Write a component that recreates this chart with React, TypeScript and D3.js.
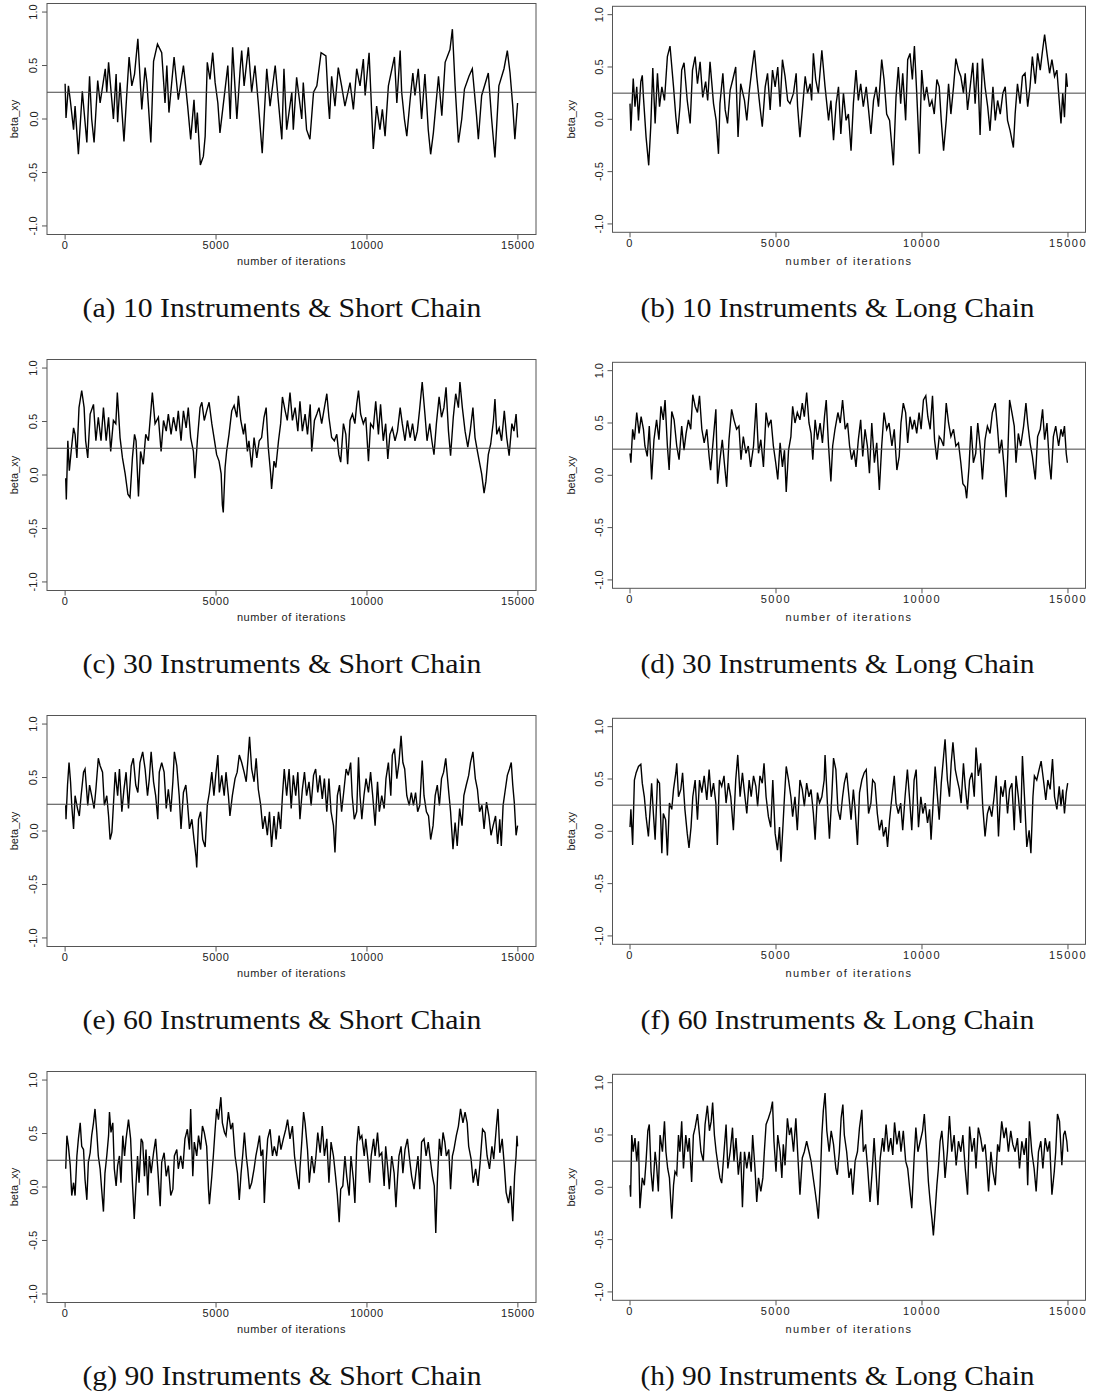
import * as d3 from "d3";

// values, [iteration, beta_xy]
const xTicks = [0, 5000, 10000, 15000];
const yTicks = [-1, -0.5, 0, 0.5, 1];
const trueBeta = 0.25;

const traceA: [number, number][] = [[0,0.33],[30,0.01],[110,0.31],[170,0.18],[280,-0.10],[330,0.12],[440,-0.33],[570,0.26],[720,-0.22],[810,0.40],[880,0.00],[960,-0.22],[1080,0.36],[1160,0.15],[1330,0.47],[1380,0.25],[1440,0.53],[1600,0.00],[1690,0.42],[1740,-0.03],[1820,0.34],[1950,-0.21],[2040,0.22],[2120,0.58],[2210,0.31],[2300,0.42],[2410,0.75],[2540,0.09],[2650,0.48],[2710,0.34],[2840,-0.22],[2930,0.54],[3060,0.70],[3200,0.62],[3310,0.15],[3370,0.50],[3440,0.06],[3610,0.58],[3750,0.18],[3920,0.50],[3970,0.37],[4060,0.12],[4160,-0.19],[4270,0.18],[4330,-0.13],[4380,0.06],[4480,-0.43],[4580,-0.35],[4640,-0.16],[4710,0.53],[4800,0.37],[4890,0.62],[4970,0.34],[5060,0.15],[5130,-0.13],[5300,0.28],[5390,0.50],[5470,0.00],[5550,0.67],[5690,0.00],[5800,0.47],[5850,0.64],[5930,0.31],[6070,0.67],[6180,0.25],[6290,0.50],[6400,0.15],[6530,-0.32],[6590,0.00],[6680,0.47],[6790,0.12],[6960,0.50],[7070,0.15],[7180,-0.19],[7250,0.47],[7340,-0.10],[7510,0.25],[7560,-0.10],[7670,0.39],[7840,0.00],[7890,0.34],[8000,-0.10],[8110,-0.19],[8230,0.25],[8340,0.31],[8480,0.62],[8640,0.59],[8720,0.15],[8760,0.00],[8830,0.40],[8940,0.12],[9050,0.48],[9160,0.31],[9270,0.12],[9440,0.34],[9550,0.09],[9660,0.47],[9770,0.31],[9880,0.56],[9940,0.22],[10070,0.62],[10210,-0.28],[10320,0.12],[10430,-0.10],[10510,0.09],[10600,-0.16],[10710,0.31],[10910,0.58],[10990,0.15],[11100,0.64],[11150,0.25],[11240,0.00],[11320,-0.16],[11430,0.18],[11520,0.43],[11590,0.22],[11700,0.47],[11810,0.00],[11920,0.42],[12030,-0.10],[12110,-0.33],[12200,-0.13],[12280,0.12],[12370,0.40],[12480,0.03],[12590,0.53],[12750,0.65],[12830,0.84],[12920,0.31],[13030,-0.22],[13140,0.00],[13230,0.28],[13380,0.40],[13490,0.47],[13630,0.03],[13690,-0.19],[13800,0.22],[14020,0.43],[14130,0.00],[14240,-0.36],[14370,0.31],[14540,0.47],[14650,0.64],[14740,0.43],[14830,0.12],[14900,-0.19],[14990,0.15]];

const traceB: [number, number][] = [[0,0.15],[30,-0.11],[110,0.39],[170,0.12],[230,0.31],[290,-0.01],[370,0.36],[420,0.42],[460,0.21],[550,-0.17],[640,-0.44],[710,-0.07],[780,0.49],[860,-0.04],[940,0.44],[1010,0.12],[1090,0.31],[1180,0.18],[1280,0.60],[1370,0.70],[1490,0.31],[1570,0.02],[1630,-0.14],[1710,0.12],[1770,0.47],[1850,0.54],[1960,0.18],[2060,-0.04],[2140,0.47],[2230,0.60],[2310,0.34],[2400,0.55],[2490,0.21],[2590,0.36],[2660,0.18],[2740,0.55],[2860,0.15],[2950,-0.01],[3030,-0.33],[3080,0.15],[3180,0.44],[3260,0.09],[3340,-0.04],[3430,0.28],[3520,0.38],[3620,0.50],[3700,-0.17],[3790,0.34],[3920,0.18],[4000,-0.01],[4090,0.28],[4170,0.47],[4260,0.66],[4340,0.41],[4450,0.12],[4530,-0.07],[4630,0.31],[4710,0.44],[4800,0.09],[4880,0.47],[4970,0.31],[5060,0.50],[5140,0.12],[5220,0.57],[5310,0.41],[5400,0.18],[5480,0.15],[5600,0.25],[5690,0.44],[5740,0.12],[5820,-0.17],[5920,0.15],[6000,0.41],[6080,0.25],[6170,0.34],[6220,0.18],[6280,0.63],[6360,0.38],[6450,0.25],[6570,0.66],[6680,0.31],[6800,-0.01],[6880,0.18],[6970,-0.20],[7060,0.15],[7140,0.31],[7220,-0.14],[7310,0.25],[7400,-0.01],[7480,0.05],[7570,-0.30],[7650,0.15],[7740,0.47],[7820,0.18],[7900,0.34],[7990,0.12],[8090,0.31],[8170,0.09],[8250,-0.14],[8340,0.18],[8430,0.31],[8510,0.12],[8620,0.57],[8700,0.38],[8790,0.05],[8890,-0.01],[8970,-0.27],[9020,-0.44],[9110,0.21],[9190,0.50],[9270,0.15],[9340,0.44],[9440,-0.01],[9510,0.57],[9590,0.63],[9670,0.38],[9740,0.70],[9820,0.25],[9910,-0.33],[9990,0.47],[10080,0.18],[10160,0.31],[10260,0.12],[10340,0.18],[10420,0.05],[10510,0.38],[10590,0.31],[10660,-0.01],[10740,-0.30],[10830,-0.01],[10910,0.34],[10990,0.05],[11080,0.31],[11160,0.58],[11250,0.47],[11330,0.41],[11420,0.25],[11480,0.44],[11560,0.09],[11650,0.31],[11740,0.54],[11820,0.15],[11900,0.54],[11990,-0.15],[12070,0.58],[12160,0.31],[12250,0.12],[12330,-0.11],[12430,0.31],[12510,-0.01],[12590,0.18],[12680,0.05],[12770,0.25],[12850,0.31],[12930,-0.01],[13020,-0.11],[13130,-0.27],[13190,0.05],[13270,0.34],[13360,0.15],[13440,0.41],[13530,0.44],[13620,0.12],[13700,0.31],[13780,0.60],[13880,0.34],[13960,0.63],[14050,0.47],[14130,0.66],[14200,0.81],[14280,0.63],[14370,0.44],[14450,0.57],[14540,0.41],[14620,0.47],[14700,0.18],[14760,-0.04],[14820,0.25],[14880,0.02],[14940,0.44],[14980,0.31]];

const traceC: [number, number][] = [[20,-0.03],[40,-0.23],[90,0.32],[140,0.04],[200,0.22],[280,0.44],[330,0.38],[390,0.16],[460,0.63],[550,0.79],[630,0.63],[680,0.32],[750,0.16],[830,0.57],[940,0.66],[1020,0.32],[1100,0.54],[1190,0.32],[1270,0.63],[1360,0.32],[1440,0.54],[1510,0.22],[1600,0.51],[1680,0.48],[1730,0.77],[1820,0.35],[1900,0.16],[1990,0.01],[2080,-0.18],[2150,-0.21],[2230,0.16],[2300,0.38],[2350,0.32],[2430,-0.20],[2500,0.22],[2590,0.10],[2670,0.38],[2760,0.32],[2850,0.63],[2890,0.77],[2980,0.48],[3090,0.54],[3180,0.22],[3260,0.51],[3350,0.41],[3420,0.57],[3510,0.38],[3590,0.54],[3680,0.41],[3750,0.60],[3840,0.32],[3920,0.60],[4010,0.44],[4080,0.63],[4160,0.35],[4250,0.22],[4300,-0.03],[4380,0.32],[4470,0.63],[4530,0.68],[4610,0.51],[4690,0.60],[4770,0.68],[4860,0.48],[4950,0.32],[5020,0.19],[5100,0.13],[5170,0.01],[5210,-0.28],[5240,-0.35],[5300,0.07],[5350,0.22],[5430,0.38],[5520,0.60],[5600,0.65],[5690,0.54],[5740,0.74],[5820,0.51],[5910,0.38],[5960,0.48],[6040,0.22],[6090,0.32],[6180,0.07],[6260,0.35],[6350,0.16],[6430,0.32],[6510,0.35],[6590,0.54],[6660,0.63],[6730,0.26],[6810,0.01],[6840,-0.13],[6920,0.13],[6980,0.07],[7070,0.32],[7140,0.48],[7200,0.73],[7290,0.60],[7360,0.51],[7450,0.77],[7530,0.51],[7620,0.63],[7710,0.41],[7780,0.69],[7860,0.41],[7950,0.57],[8030,0.38],[8120,0.66],[8170,0.22],[8260,0.51],[8340,0.57],[8410,0.63],[8500,0.48],[8590,0.63],[8670,0.76],[8740,0.54],[8830,0.35],[8920,0.32],[9000,0.38],[9070,0.19],[9130,0.12],[9220,0.48],[9300,0.38],[9360,0.10],[9440,0.51],[9520,0.57],[9600,0.48],[9660,0.66],[9720,0.79],[9790,0.57],[9880,0.48],[9960,0.54],[10050,0.13],[10120,0.48],[10210,0.44],[10290,0.69],[10380,0.38],[10450,0.66],[10540,0.32],[10620,0.48],[10690,0.15],[10760,0.38],[10840,0.44],[10930,0.32],[11010,0.41],[11100,0.63],[11170,0.48],[11260,0.32],[11340,0.51],[11430,0.35],[11510,0.48],[11590,0.32],[11670,0.41],[11740,0.60],[11830,0.87],[11920,0.57],[11990,0.32],[12080,0.48],[12150,0.32],[12220,0.19],[12300,0.48],[12390,0.73],[12470,0.54],[12550,0.63],[12620,0.82],[12700,0.41],[12770,0.18],[12860,0.54],[12940,0.76],[13030,0.63],[13080,0.87],[13160,0.63],[13250,0.41],[13340,0.26],[13420,0.41],[13510,0.63],[13580,0.35],[13660,0.22],[13720,0.13],[13800,0.01],[13880,-0.17],[13940,-0.06],[14020,0.19],[14100,0.29],[14190,0.51],[14240,0.71],[14300,0.38],[14380,0.44],[14460,0.32],[14550,0.60],[14630,0.35],[14710,0.18],[14800,0.48],[14870,0.41],[14940,0.57],[14990,0.35]];

const traceD: [number, number][] = [[0,0.21],[30,0.12],[90,0.44],[150,0.34],[230,0.60],[310,0.40],[380,0.56],[460,0.44],[510,0.28],[590,0.18],[660,0.47],[740,-0.04],[820,0.34],[910,0.53],[990,0.34],[1060,0.66],[1140,0.53],[1200,0.72],[1280,0.28],[1340,0.05],[1430,0.61],[1510,0.53],[1600,0.28],[1680,0.15],[1770,0.47],[1850,0.24],[1920,0.40],[2000,0.53],[2080,0.44],[2150,0.77],[2230,0.66],[2310,0.60],[2380,0.76],[2460,0.44],[2540,0.31],[2630,0.44],[2710,0.18],[2760,0.05],[2860,0.37],[2940,0.63],[3000,-0.08],[3080,0.15],[3160,0.34],[3230,0.12],[3310,-0.11],[3390,0.34],[3480,0.63],[3560,0.53],[3650,0.44],[3730,0.47],[3800,0.15],[3880,0.37],[3970,0.21],[4050,0.28],[4130,0.08],[4230,0.28],[4320,0.69],[4400,0.21],[4480,0.34],[4570,0.08],[4660,0.60],[4740,0.47],[4830,0.53],[4910,0.28],[4990,0.12],[5060,-0.04],[5140,0.31],[5220,0.08],[5290,0.24],[5350,-0.16],[5430,0.24],[5510,0.37],[5570,0.66],[5650,0.50],[5730,0.60],[5820,0.53],[5900,0.69],[5970,0.56],[6050,0.79],[6130,0.50],[6200,0.40],[6260,0.15],[6340,0.53],[6420,0.34],[6510,0.50],[6590,0.31],[6660,0.56],[6720,0.72],[6800,0.28],[6880,-0.06],[6940,0.28],[7020,0.44],[7120,0.60],[7200,0.50],[7280,0.72],[7370,0.44],[7450,0.50],[7520,0.28],[7590,0.15],[7670,0.24],[7740,0.08],[7820,0.34],[7900,0.53],[7970,0.18],[8050,0.44],[8130,0.28],[8200,0.02],[8280,0.50],[8370,0.12],[8450,0.31],[8540,-0.14],[8620,0.28],[8700,0.60],[8790,0.44],[8870,0.50],[8970,0.28],[9050,0.44],[9140,0.05],[9220,0.18],[9280,0.50],[9360,0.69],[9440,0.60],[9510,0.31],[9590,0.56],[9670,0.44],[9740,0.53],[9820,0.40],[9900,0.60],[9970,0.44],[10050,0.72],[10130,0.76],[10200,0.56],[10280,0.44],[10360,0.76],[10430,0.34],[10510,0.15],[10590,0.37],[10660,0.34],[10740,0.28],[10830,0.69],[10910,0.50],[10990,0.37],[11080,0.44],[11160,0.28],[11250,0.31],[11330,0.12],[11400,-0.08],[11480,-0.11],[11530,-0.22],[11610,0.08],[11680,0.47],[11760,0.12],[11840,0.21],[11910,0.50],[11990,0.28],[12070,-0.04],[12160,0.34],[12240,0.47],[12330,0.40],[12410,0.60],[12510,0.69],[12590,0.44],[12650,0.21],[12730,0.34],[12810,0.08],[12880,-0.21],[12940,0.21],[13000,0.72],[13080,0.60],[13160,0.47],[13220,0.12],[13300,0.40],[13380,0.28],[13480,0.47],[13560,0.69],[13620,0.50],[13700,0.31],[13780,0.18],[13880,-0.04],[13960,0.37],[14050,0.44],[14130,0.63],[14200,0.34],[14280,0.50],[14360,0.12],[14420,-0.04],[14500,0.37],[14580,0.47],[14680,0.28],[14760,0.44],[14820,0.37],[14880,0.47],[14940,0.21],[14980,0.12]];

const traceE: [number, number][] = [[20,0.24],[30,0.11],[80,0.43],[130,0.64],[180,0.46],[220,0.24],[280,0.02],[330,0.33],[410,0.21],[470,0.14],[530,0.33],[610,0.55],[660,0.58],[750,0.24],[810,0.43],[880,0.33],[960,0.21],[1020,0.39],[1100,0.68],[1160,0.61],[1240,0.55],[1300,0.24],[1380,0.33],[1440,0.14],[1490,-0.08],[1550,-0.01],[1580,0.14],[1660,0.55],[1740,0.33],[1800,0.58],[1880,0.18],[1950,0.39],[2020,0.55],[2100,0.21],[2190,0.61],[2260,0.68],[2340,0.43],[2410,0.36],[2480,0.64],[2570,0.74],[2650,0.58],[2730,0.33],[2790,0.49],[2850,0.74],[2930,0.46],[3000,0.33],[3070,0.11],[3120,0.55],[3200,0.64],[3280,0.55],[3350,0.21],[3420,0.39],[3500,0.18],[3570,0.46],[3620,0.74],[3700,0.61],[3780,0.33],[3840,0.02],[3920,0.36],[4000,0.43],[4060,0.24],[4120,0.02],[4200,0.11],[4270,-0.08],[4340,-0.25],[4360,-0.34],[4420,0.11],[4490,0.18],[4560,-0.08],[4640,-0.15],[4710,0.24],[4780,0.36],[4860,0.55],[4930,0.33],[5000,0.55],[5060,0.71],[5110,0.36],[5190,0.52],[5270,0.33],[5330,0.55],[5410,0.33],[5460,0.14],[5540,0.33],[5630,0.49],[5700,0.55],[5770,0.71],[5850,0.64],[5930,0.55],[6000,0.46],[6050,0.64],[6110,0.88],[6180,0.58],[6260,0.46],[6330,0.68],[6400,0.39],[6480,0.24],[6550,0.02],[6620,0.14],[6700,-0.04],[6770,0.18],[6840,-0.15],[6920,0.14],[6990,-0.08],[7070,0.18],[7140,0.02],[7200,0.33],[7260,0.58],[7340,0.33],[7420,0.58],[7490,0.21],[7560,0.52],[7640,0.33],[7710,0.55],[7780,0.11],[7860,0.39],[7930,0.55],[8000,0.33],[8080,0.46],[8150,0.24],[8230,0.52],[8300,0.58],[8370,0.36],[8440,0.52],[8520,0.30],[8590,0.49],[8670,0.18],[8740,0.49],[8810,0.18],[8890,0.05],[8940,-0.20],[9020,0.33],[9090,0.43],[9160,0.18],[9240,0.39],[9310,0.58],[9380,0.52],[9460,0.64],[9510,0.33],[9580,0.11],[9660,0.18],[9720,0.69],[9770,0.33],[9830,0.11],[9900,0.33],[9970,0.49],[10050,0.36],[10120,0.55],[10190,0.33],[10270,0.05],[10350,0.46],[10410,0.18],[10490,0.33],[10570,0.21],[10630,0.49],[10710,0.64],[10790,0.33],[10840,0.71],[10910,0.77],[10990,0.49],[11060,0.64],[11130,0.89],[11190,0.64],[11250,0.58],[11320,0.33],[11400,0.24],[11470,0.36],[11540,0.24],[11610,0.36],[11680,0.18],[11750,0.24],[11830,0.66],[11890,0.33],[11970,0.18],[12040,0.14],[12110,-0.08],[12190,0.05],[12260,0.33],[12330,0.43],[12400,0.24],[12470,0.49],[12540,0.55],[12610,0.68],[12710,0.36],[12770,0.18],[12850,-0.17],[12920,0.08],[12990,-0.14],[13070,0.21],[13150,0.05],[13210,0.33],[13290,0.43],[13370,0.52],[13430,0.64],[13510,0.74],[13590,0.49],[13660,0.39],[13730,0.18],[13810,0.24],[13880,0.02],[13960,0.27],[14040,0.14],[14110,-0.04],[14180,0.05],[14260,0.14],[14330,-0.12],[14400,0.11],[14450,-0.14],[14510,0.24],[14570,0.36],[14650,0.52],[14720,0.58],[14780,0.64],[14830,0.43],[14880,0.27],[14940,-0.04],[14990,0.05]];

const traceF: [number, number][] = [[0,0.04],[30,0.21],[90,-0.13],[150,0.49],[210,0.56],[290,0.62],[370,0.64],[420,0.46],[490,0.33],[550,0.14],[630,-0.05],[690,0.21],[740,0.46],[800,0.17],[860,-0.08],[940,0.49],[1010,0.46],[1090,-0.21],[1140,0.17],[1220,0.11],[1280,-0.23],[1350,0.27],[1430,0.21],[1490,0.40],[1570,0.56],[1600,0.65],[1660,0.33],[1740,0.40],[1800,0.56],[1880,0.21],[1960,-0.02],[2020,-0.16],[2090,0.04],[2150,0.33],[2230,0.49],[2310,0.11],[2380,0.49],[2460,0.37],[2540,0.53],[2630,0.30],[2710,0.59],[2780,0.33],[2860,0.46],[2940,0.27],[2990,-0.13],[3060,0.49],[3140,0.43],[3220,0.53],[3290,0.27],[3370,0.46],[3450,0.33],[3540,0.01],[3620,0.49],[3690,0.73],[3770,0.33],[3850,0.56],[3920,0.37],[4000,0.17],[4080,0.49],[4150,0.33],[4230,0.53],[4310,0.43],[4370,0.24],[4450,0.53],[4530,0.46],[4590,0.65],[4660,0.33],[4740,0.14],[4820,0.04],[4890,0.49],[4970,-0.02],[5050,-0.18],[5120,0.04],[5170,-0.29],[5230,0.01],[5290,0.33],[5350,0.62],[5430,0.49],[5510,0.33],[5570,0.14],[5650,0.33],[5730,0.01],[5820,0.49],[5900,0.40],[5970,0.24],[6050,0.46],[6130,0.33],[6200,0.40],[6280,0.17],[6340,-0.08],[6420,0.37],[6490,0.27],[6570,0.33],[6650,0.49],[6680,0.73],[6760,0.27],[6830,-0.07],[6910,0.33],[6970,0.70],[7050,0.59],[7120,0.21],[7200,0.11],[7280,0.33],[7340,0.46],[7420,0.56],[7500,0.33],[7570,0.11],[7650,0.40],[7710,0.21],[7790,-0.13],[7860,0.37],[7940,0.49],[8020,0.56],[8090,0.59],[8170,0.17],[8250,0.27],[8310,0.49],[8390,0.46],[8470,0.17],[8540,0.01],[8620,0.11],[8680,-0.05],[8760,0.04],[8820,-0.15],[8890,0.11],[8970,0.33],[9050,0.53],[9110,0.27],[9190,0.17],[9270,0.27],[9340,0.01],[9420,0.33],[9500,0.59],[9570,0.33],[9650,0.01],[9730,0.49],[9800,0.59],[9880,0.04],[9960,0.33],[10030,0.17],[10110,0.27],[10190,0.08],[10260,0.21],[10310,-0.08],[10370,0.21],[10450,0.62],[10530,0.33],[10590,0.11],[10660,0.46],[10740,0.72],[10790,0.88],[10870,0.49],[10940,0.33],[11000,0.65],[11060,0.85],[11140,0.59],[11210,0.49],[11280,0.40],[11340,0.27],[11420,0.65],[11480,0.43],[11560,0.21],[11630,0.49],[11710,0.56],[11790,0.33],[11850,0.80],[11930,0.53],[12010,0.65],[12080,0.24],[12160,-0.05],[12240,0.17],[12310,0.24],[12390,0.14],[12470,0.33],[12540,0.53],[12620,-0.05],[12700,0.43],[12770,0.33],[12850,0.49],[12930,0.17],[13000,0.40],[13080,0.46],[13160,0.01],[13220,0.53],[13300,0.33],[13380,0.08],[13440,0.72],[13510,0.33],[13590,-0.15],[13670,0.01],[13730,-0.21],[13800,0.33],[13850,0.53],[13930,0.49],[14010,0.59],[14080,0.67],[14160,0.49],[14240,0.30],[14310,0.49],[14390,0.40],[14470,0.69],[14540,0.33],[14620,0.21],[14700,0.43],[14760,0.24],[14820,0.40],[14880,0.17],[14940,0.37],[14990,0.46]];

const traceG: [number, number][] = [[20,0.17],[60,0.48],[110,0.38],[170,0.20],[220,-0.08],[280,0.04],[330,-0.08],[390,0.29],[440,0.45],[500,0.60],[550,0.38],[610,0.35],[660,0.07],[720,-0.12],[770,0.23],[830,0.32],[880,0.48],[940,0.60],[990,0.73],[1050,0.51],[1100,0.29],[1160,0.17],[1210,-0.02],[1270,-0.23],[1320,0.13],[1380,0.29],[1440,0.48],[1470,0.70],[1520,0.51],[1580,0.60],[1630,0.17],[1690,0.01],[1740,0.20],[1800,0.29],[1850,0.04],[1910,0.48],[1970,0.29],[2020,0.45],[2100,0.63],[2170,0.45],[2230,0.04],[2290,-0.30],[2340,-0.02],[2400,0.29],[2450,0.04],[2520,0.45],[2570,0.42],[2630,0.10],[2680,0.35],[2740,-0.08],[2790,0.29],[2850,0.13],[2930,0.32],[3000,0.45],[3070,0.17],[3150,-0.18],[3200,0.23],[3280,0.32],[3350,0.10],[3420,0.20],[3500,-0.08],[3570,-0.02],[3620,0.29],[3700,0.35],[3750,0.17],[3830,0.29],[3900,0.17],[3970,0.45],[4050,0.54],[4120,0.35],[4160,0.73],[4230,0.10],[4280,0.42],[4360,0.29],[4420,0.48],[4490,0.35],[4550,0.57],[4610,0.51],[4690,0.38],[4750,-0.02],[4780,-0.16],[4860,0.10],[4910,0.29],[4970,0.54],[5020,0.73],[5080,0.63],[5160,0.84],[5210,0.60],[5280,0.51],[5330,0.48],[5410,0.70],[5490,0.54],[5550,0.60],[5630,0.29],[5710,0.13],[5770,-0.12],[5830,0.13],[5890,0.32],[5940,0.51],[6000,0.29],[6050,0.17],[6110,-0.02],[6180,0.04],[6260,0.17],[6320,0.29],[6380,0.38],[6440,0.48],[6490,0.29],[6550,0.35],[6600,-0.15],[6660,0.23],[6710,0.45],[6790,0.54],[6870,0.29],[6930,0.38],[7010,0.29],[7090,0.48],[7150,0.35],[7230,0.45],[7310,0.54],[7370,0.63],[7450,0.45],[7530,0.57],[7600,0.29],[7670,0.13],[7750,-0.02],[7780,0.17],[7840,0.42],[7900,0.70],[7950,0.60],[8030,0.35],[8090,0.04],[8170,0.29],[8250,0.13],[8310,0.29],[8370,0.51],[8450,0.32],[8520,0.57],[8590,0.29],[8670,0.45],[8740,0.04],[8810,0.42],[8890,0.29],[8960,0.10],[9020,-0.08],[9080,-0.33],[9130,-0.02],[9200,0.01],[9270,0.29],[9330,0.10],[9410,-0.08],[9470,0.29],[9550,0.07],[9600,-0.15],[9660,0.38],[9720,0.57],[9770,0.45],[9830,0.48],[9910,0.29],[9960,0.45],[10030,0.26],[10090,0.04],[10140,0.29],[10220,0.45],[10270,0.29],[10350,0.51],[10410,0.29],[10490,0.32],[10570,0.01],[10620,0.38],[10690,0.17],[10740,-0.02],[10820,0.29],[10900,0.13],[10960,-0.19],[11010,0.07],[11060,0.29],[11130,0.38],[11190,0.13],[11260,0.35],[11340,0.45],[11400,0.29],[11480,0.10],[11560,-0.02],[11620,0.13],[11690,0.29],[11750,-0.02],[11810,0.42],[11890,0.45],[11960,0.29],[12030,0.42],[12110,0.23],[12170,0.10],[12230,0.01],[12280,-0.43],[12330,0.04],[12400,0.45],[12460,0.29],[12520,0.51],[12580,0.42],[12630,0.29],[12710,0.35],[12770,-0.02],[12830,0.29],[12880,0.35],[12960,0.48],[13030,0.57],[13100,0.73],[13180,0.60],[13250,0.70],[13320,0.60],[13370,0.38],[13450,0.26],[13520,0.04],[13600,0.17],[13680,0.01],[13750,0.23],[13830,0.54],[13910,0.51],[13980,0.29],[14060,0.17],[14140,0.38],[14200,0.26],[14290,0.57],[14340,0.73],[14400,0.32],[14480,0.45],[14550,0.20],[14610,-0.05],[14690,-0.15],[14760,0.01],[14830,-0.32],[14890,0.10],[14940,0.29],[14970,0.48],[14990,0.38]];

const traceH: [number, number][] = [[0,0.02],[20,-0.09],[60,0.50],[110,0.34],[170,0.47],[230,0.25],[290,0.44],[340,-0.20],[420,0.09],[490,0.02],[550,0.25],[610,0.54],[660,0.60],[720,0.15],[780,-0.04],[860,0.34],[910,0.21],[970,-0.04],[1030,0.50],[1110,0.34],[1180,0.63],[1230,0.34],[1290,0.18],[1350,0.09],[1430,-0.30],[1490,0.02],[1540,0.15],[1600,0.12],[1660,0.50],[1710,0.34],[1770,0.63],[1830,0.18],[1910,0.50],[1980,0.34],[2030,0.47],[2110,0.05],[2170,0.50],[2230,0.57],[2310,0.70],[2380,0.50],[2430,0.34],[2510,0.25],[2570,0.60],[2650,0.78],[2720,0.54],[2780,0.63],[2830,0.81],[2890,0.50],[2950,0.34],[3030,0.18],[3080,0.09],[3140,0.04],[3220,0.34],[3290,0.60],[3350,0.18],[3430,0.34],[3510,0.57],[3560,0.25],[3630,0.47],[3710,0.12],[3790,0.34],[3850,-0.19],[3920,0.34],[4000,0.18],[4080,0.34],[4150,0.15],[4200,0.50],[4280,0.18],[4340,-0.14],[4400,0.09],[4480,-0.04],[4550,0.09],[4600,0.34],[4660,0.60],[4740,0.66],[4820,0.73],[4880,0.82],[4930,0.44],[5000,0.15],[5060,0.50],[5140,0.34],[5200,0.09],[5250,0.41],[5310,0.21],[5390,0.66],[5460,0.50],[5520,0.57],[5600,0.34],[5680,0.66],[5740,0.34],[5820,-0.07],[5900,0.28],[5970,0.34],[6050,0.44],[6130,0.34],[6200,0.25],[6260,0.12],[6340,-0.04],[6400,-0.17],[6450,-0.30],[6510,0.02],[6570,0.50],[6620,0.73],[6680,0.90],[6740,0.54],[6820,0.34],[6890,0.54],[6970,0.41],[7050,0.18],[7100,0.12],[7170,0.34],[7230,0.66],[7290,0.79],[7340,0.50],[7420,0.34],[7500,0.09],[7570,0.18],[7630,-0.07],[7710,0.25],[7790,0.34],[7860,0.57],[7940,0.74],[7990,0.34],[8070,0.41],[8140,0.18],[8220,-0.14],[8300,0.18],[8360,0.47],[8420,0.18],[8490,-0.17],[8570,0.28],[8650,0.47],[8700,0.34],[8770,0.60],[8850,0.34],[8930,0.47],[9000,0.31],[9060,0.62],[9140,0.41],[9220,0.54],[9280,0.34],[9360,0.54],[9440,0.25],[9510,0.18],[9590,-0.04],[9650,-0.20],[9730,0.28],[9790,0.57],[9860,0.34],[9940,0.44],[10020,0.54],[10080,0.70],[10160,0.34],[10220,0.05],[10280,-0.14],[10340,-0.30],[10390,-0.46],[10450,-0.23],[10510,0.02],[10560,0.18],[10620,0.44],[10680,0.54],[10740,0.34],[10790,0.09],[10870,0.34],[10940,0.68],[11020,0.34],[11100,0.50],[11170,0.21],[11250,0.44],[11330,0.34],[11400,0.50],[11480,0.18],[11560,-0.07],[11630,0.58],[11710,0.34],[11790,0.47],[11850,0.18],[11930,0.57],[12010,0.47],[12080,0.34],[12160,0.41],[12220,0.21],[12280,-0.04],[12360,0.34],[12430,0.15],[12510,0.02],[12590,0.41],[12650,0.34],[12730,0.63],[12810,0.47],[12880,0.57],[12960,0.34],[13040,0.54],[13110,0.41],[13190,0.34],[13270,0.47],[13340,0.18],[13420,0.44],[13500,0.31],[13570,0.47],[13620,0.02],[13680,0.63],[13760,0.34],[13840,0.18],[13910,-0.04],[13990,0.34],[14070,0.44],[14140,0.18],[14220,0.47],[14300,0.34],[14370,0.44],[14450,-0.07],[14530,0.15],[14580,0.34],[14640,0.70],[14710,0.63],[14790,0.21],[14850,0.50],[14900,0.54],[14960,0.44],[14990,0.34]];

const captions = [
  "(a) 10 Instruments & Short Chain",
  "(b) 10 Instruments & Long Chain",
  "(c) 30 Instruments & Short Chain",
  "(d) 30 Instruments & Long Chain",
  "(e) 60 Instruments & Short Chain",
  "(f) 60 Instruments & Long Chain",
  "(g) 90 Instruments & Short Chain",
  "(h) 90 Instruments & Long Chain",
];
const traces = [traceA, traceB, traceC, traceD, traceE, traceF, traceG, traceH];

// two slightly different plot geometries, one per column
const columns = [
  { left: 47, width: 489, top: 3.5, height: 231, tickGap: 14.5, xlabGap: 30.5, ylabOff: 29, spacing: 0.6, capCenter: 282, capLen: 399 },
  { left: 612.5, width: 473, top: 6.3, height: 226, tickGap: 15, xlabGap: 32.5, ylabOff: 37.5, spacing: 1.5, capCenter: 837.5, capLen: 394 },
];
const rowStep = 356;
const axisFont = "'Liberation Sans', Arial, sans-serif";

function Panel({ data, caption, col, row }: { data: [number, number][]; caption: string; col: number; row: number }) {
  const c = columns[col];
  const top = c.top + row * rowStep;
  const bottom = top + c.height;
  const x = d3.scaleLinear().domain([-600, 15600]).range([c.left, c.left + c.width]);
  const y = d3.scaleLinear().domain([-1.08, 1.08]).range([bottom, top]);
  const line = d3.line<[number, number]>().x((d) => x(d[0])).y((d) => y(d[1]));
  const midY = (top + bottom) / 2;
  const midX = x(7500);
  return (
    <g>
      <path d={line(data) ?? ""} fill="none" stroke="#000" strokeWidth={1.4} />
      <line x1={c.left} x2={c.left + c.width} y1={y(trueBeta)} y2={y(trueBeta)} stroke="#444" strokeWidth={1} />
      <rect x={c.left} y={top} width={c.width} height={c.height} fill="none" stroke="#555" strokeWidth={1} />
      <g fontFamily={axisFont} fontSize={11} fill="#222" style={{ letterSpacing: c.spacing }}>
        {yTicks.map((t) => (
          <g key={"y" + t}>
            <line x1={c.left - 5} x2={c.left} y1={y(t)} y2={y(t)} stroke="#555" />
            <text x={c.left - 9.5} y={y(t)} textAnchor="middle" transform={`rotate(-90 ${c.left - 9.5} ${y(t)})`} style={{ letterSpacing: 0 }}>
              {t.toFixed(1)}
            </text>
          </g>
        ))}
        {xTicks.map((t) => (
          <g key={"x" + t}>
            <line x1={x(t)} x2={x(t)} y1={bottom} y2={bottom + 5} stroke="#555" />
            <text x={x(t)} y={bottom + c.tickGap} textAnchor="middle">
              {t}
            </text>
          </g>
        ))}
        <text x={midX} y={bottom + c.xlabGap} textAnchor="middle">
          number of iterations
        </text>
        <text x={c.left - c.ylabOff} y={midY} textAnchor="middle" transform={`rotate(-90 ${c.left - c.ylabOff} ${midY})`} style={{ letterSpacing: 0 }}>
          beta_xy
        </text>
      </g>
      <text
        x={c.capCenter}
        y={317 + row * rowStep}
        textAnchor="middle"
        fontFamily="'Liberation Serif', 'Times New Roman', serif"
        fontSize={27}
        fill="#111"
        textLength={c.capLen}
        lengthAdjust="spacingAndGlyphs"
      >
        {caption}
      </text>
    </g>
  );
}

export default function App() {
  return (
    <svg width={1094} height={1394} style={{ position: "absolute", left: 0, top: 0, background: "#fff" }}>
      {traces.map((t, i) => (
        <Panel key={i} data={t} caption={captions[i]} col={i % 2} row={Math.floor(i / 2)} />
      ))}
    </svg>
  );
}
